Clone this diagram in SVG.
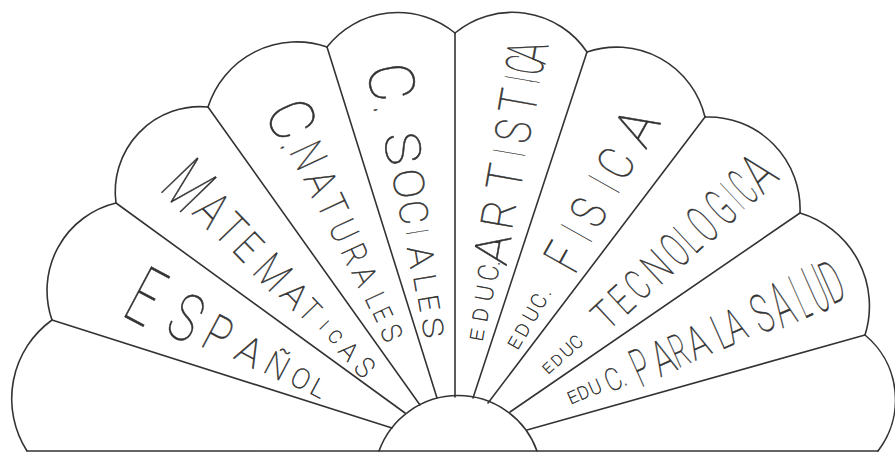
<svg xmlns="http://www.w3.org/2000/svg" width="895" height="453" viewBox="0 0 895 453">
<style>
.ln{fill:none;stroke:#333;stroke-width:1.6;stroke-linecap:round;stroke-linejoin:round}
.lbl{font-family:Roboto,"Noto Sans","DejaVu Sans",sans-serif;font-weight:100;fill:#333;stroke:#333;stroke-width:0.55;text-anchor:start}
</style>
<rect width="895" height="453" fill="#fff"/>
<g id="connectors" class="ln">
<line x1="52" y1="320" x2="392" y2="428"/>
<line x1="116" y1="203" x2="405" y2="413"/>
<line x1="208" y1="107" x2="420" y2="405"/>
<line x1="327" y1="47" x2="437" y2="398"/>
<line x1="455" y1="33" x2="455" y2="397"/>
<line x1="587" y1="52" x2="473" y2="398"/>
<line x1="705" y1="117" x2="488" y2="403"/>
<line x1="800" y1="213" x2="510" y2="412"/>
<line x1="865" y1="335" x2="527" y2="430"/>
<line x1="27" y1="451" x2="878" y2="451"/>
</g>
<g id="hub"><path class="ln" d="M379,451 A84,84 0 0 1 537,451"/></g>
<g id="sector-left"><path class="ln" d="M27,451 A97,97 0 0 1 52,320"/></g>
<g id="sector-espanol"><path class="ln" d="M52,320 A90,90 0 0 1 116,203"/>
<text class="lbl" transform="translate(146,296) rotate(28)"><tspan x="-14" y="28.4" font-size="80" textLength="28" lengthAdjust="spacingAndGlyphs">E</tspan><tspan x="31.7" y="23.4" font-size="66" textLength="28" lengthAdjust="spacingAndGlyphs">S</tspan><tspan x="69.5" y="18.5" font-size="52" textLength="24" lengthAdjust="spacingAndGlyphs">P</tspan><tspan x="105.7" y="13.8" font-size="39" textLength="24" lengthAdjust="spacingAndGlyphs">A</tspan><tspan x="137.5" y="12" font-size="34" textLength="22" lengthAdjust="spacingAndGlyphs">Ñ</tspan><tspan x="166.4" y="10" font-size="28" textLength="18" lengthAdjust="spacingAndGlyphs">O</tspan><tspan x="188.5" y="9" font-size="25" textLength="14" lengthAdjust="spacingAndGlyphs">L</tspan></text></g>
<g id="sector-matematicas"><path class="ln" d="M116,203 A85,85 0 0 1 208,107"/>
<text class="lbl" transform="translate(189,185) rotate(46)"><tspan x="-18" y="24.9" font-size="70" textLength="36" lengthAdjust="spacingAndGlyphs">M</tspan><tspan x="22" y="18" font-size="51" textLength="24" lengthAdjust="spacingAndGlyphs">A</tspan><tspan x="50" y="16.5" font-size="46" textLength="22" lengthAdjust="spacingAndGlyphs">T</tspan><tspan x="75.6" y="15" font-size="42" textLength="20" lengthAdjust="spacingAndGlyphs">E</tspan><tspan x="106" y="16" font-size="45" textLength="30" lengthAdjust="spacingAndGlyphs">M</tspan><tspan x="141.8" y="12.5" font-size="35" textLength="22" lengthAdjust="spacingAndGlyphs">A</tspan><tspan x="166" y="11" font-size="31" textLength="16" lengthAdjust="spacingAndGlyphs">T</tspan><tspan x="192.5" y="6" font-size="17" textLength="4" lengthAdjust="spacingAndGlyphs">I</tspan><tspan x="204.8" y="6.5" font-size="18" textLength="12" lengthAdjust="spacingAndGlyphs">C</tspan><tspan x="223.1" y="9" font-size="25" textLength="15" lengthAdjust="spacingAndGlyphs">A</tspan><tspan x="245.7" y="10" font-size="28" textLength="15" lengthAdjust="spacingAndGlyphs">S</tspan></text></g>
<g id="sector-naturales"><path class="ln" d="M208,107 A93,93 0 0 1 327,47"/>
<text class="lbl" transform="translate(292,119) rotate(65)"><tspan x="-18" y="22.4" font-size="63" textLength="36" lengthAdjust="spacingAndGlyphs">C</tspan><tspan x="19" y="22.4" font-size="63" textLength="6" lengthAdjust="spacingAndGlyphs">.</tspan><tspan x="28" y="16.5" font-size="46" textLength="24" lengthAdjust="spacingAndGlyphs">N</tspan><tspan x="59" y="15" font-size="42" textLength="22" lengthAdjust="spacingAndGlyphs">A</tspan><tspan x="86" y="14" font-size="39" textLength="20" lengthAdjust="spacingAndGlyphs">T</tspan><tspan x="113" y="13" font-size="37" textLength="20" lengthAdjust="spacingAndGlyphs">U</tspan><tspan x="140" y="12" font-size="34" textLength="18" lengthAdjust="spacingAndGlyphs">R</tspan><tspan x="164" y="11" font-size="31" textLength="18" lengthAdjust="spacingAndGlyphs">A</tspan><tspan x="193" y="10" font-size="28" textLength="12" lengthAdjust="spacingAndGlyphs">L</tspan><tspan x="209" y="9" font-size="25" textLength="12" lengthAdjust="spacingAndGlyphs">E</tspan><tspan x="228.5" y="10" font-size="28" textLength="15" lengthAdjust="spacingAndGlyphs">S</tspan></text></g>
<g id="sector-sociales"><path class="ln" d="M327,47 A90,90 0 0 1 455,33"/>
<text class="lbl" transform="translate(392,82) rotate(80.5)"><tspan x="-19" y="22.4" font-size="63" textLength="38" lengthAdjust="spacingAndGlyphs">C</tspan><tspan x="22" y="22.4" font-size="63" textLength="6" lengthAdjust="spacingAndGlyphs">.</tspan><tspan x="51" y="17.5" font-size="49" textLength="32" lengthAdjust="spacingAndGlyphs">S</tspan><tspan x="88" y="15" font-size="42" textLength="30" lengthAdjust="spacingAndGlyphs">O</tspan><tspan x="120" y="14" font-size="39" textLength="24" lengthAdjust="spacingAndGlyphs">C</tspan><tspan x="150" y="11" font-size="31" textLength="4" lengthAdjust="spacingAndGlyphs">I</tspan><tspan x="166" y="12.5" font-size="35" textLength="22" lengthAdjust="spacingAndGlyphs">A</tspan><tspan x="195" y="11" font-size="31" textLength="16" lengthAdjust="spacingAndGlyphs">L</tspan><tspan x="216" y="10" font-size="28" textLength="16" lengthAdjust="spacingAndGlyphs">E</tspan><tspan x="239" y="10" font-size="28" textLength="20" lengthAdjust="spacingAndGlyphs">S</tspan></text></g>
<g id="sector-artistica"><path class="ln" d="M455,33 A90,90 0 0 1 587,52"/>
<text class="lbl" transform="translate(477,335) rotate(-80)"><tspan x="-6" y="6.5" font-size="18" textLength="12" lengthAdjust="spacingAndGlyphs">E</tspan><tspan x="13.9" y="7.5" font-size="21" textLength="13" lengthAdjust="spacingAndGlyphs">D</tspan><tspan x="34.6" y="8.5" font-size="24" textLength="16" lengthAdjust="spacingAndGlyphs">U</tspan><tspan x="55.4" y="10" font-size="28" textLength="16" lengthAdjust="spacingAndGlyphs">C</tspan><tspan x="72" y="10" font-size="28" textLength="4" lengthAdjust="spacingAndGlyphs">.</tspan><tspan> </tspan><tspan x="72.5" y="17" font-size="48" textLength="30" lengthAdjust="spacingAndGlyphs">A</tspan><tspan x="108.5" y="16" font-size="45" textLength="28" lengthAdjust="spacingAndGlyphs">R</tspan><tspan x="147" y="17.5" font-size="49" textLength="26" lengthAdjust="spacingAndGlyphs">T</tspan><tspan x="183" y="16" font-size="45" textLength="4" lengthAdjust="spacingAndGlyphs">I</tspan><tspan x="196" y="17.5" font-size="49" textLength="22" lengthAdjust="spacingAndGlyphs">S</tspan><tspan x="225" y="18.5" font-size="52" textLength="24" lengthAdjust="spacingAndGlyphs">T</tspan><tspan x="257.4" y="17.5" font-size="49" textLength="4" lengthAdjust="spacingAndGlyphs">I</tspan><tspan x="265.5" y="18.5" font-size="52" textLength="18" lengthAdjust="spacingAndGlyphs">C</tspan><tspan x="277.7" y="20" font-size="56" textLength="20" lengthAdjust="spacingAndGlyphs">A</tspan></text></g>
<g id="sector-fisica"><path class="ln" d="M587,52 A91,91 0 0 1 705,117"/>
<text class="lbl" transform="translate(515,343) rotate(-60.8)"><tspan x="-5.5" y="6" font-size="17" textLength="11" lengthAdjust="spacingAndGlyphs">E</tspan><tspan x="9.2" y="6.5" font-size="18" textLength="12" lengthAdjust="spacingAndGlyphs">D</tspan><tspan x="26.2" y="7" font-size="20" textLength="13" lengthAdjust="spacingAndGlyphs">U</tspan><tspan x="41.6" y="7.5" font-size="21" textLength="13" lengthAdjust="spacingAndGlyphs">C</tspan><tspan x="58" y="7.5" font-size="21" textLength="4" lengthAdjust="spacingAndGlyphs">.</tspan><tspan> </tspan><tspan x="87.8" y="19" font-size="53" textLength="22" lengthAdjust="spacingAndGlyphs">F</tspan><tspan x="124" y="17.5" font-size="49" textLength="4" lengthAdjust="spacingAndGlyphs">I</tspan><tspan x="139" y="17.5" font-size="49" textLength="22" lengthAdjust="spacingAndGlyphs">S</tspan><tspan x="180.3" y="17.5" font-size="49" textLength="4" lengthAdjust="spacingAndGlyphs">I</tspan><tspan x="193" y="17.5" font-size="49" textLength="26" lengthAdjust="spacingAndGlyphs">C</tspan><tspan x="232" y="20" font-size="56" textLength="32" lengthAdjust="spacingAndGlyphs">A</tspan></text></g>
<g id="sector-tecnologica"><path class="ln" d="M705,117 A92,92 0 0 1 800,213"/>
<text class="lbl" transform="translate(548,368) rotate(-43)"><tspan x="-4.5" y="5" font-size="14" textLength="9" lengthAdjust="spacingAndGlyphs">E</tspan><tspan x="7.1" y="5.5" font-size="15" textLength="10" lengthAdjust="spacingAndGlyphs">D</tspan><tspan x="20.2" y="6" font-size="17" textLength="12" lengthAdjust="spacingAndGlyphs">U</tspan><tspan x="32.7" y="6.5" font-size="18" textLength="11" lengthAdjust="spacingAndGlyphs">C</tspan><tspan> </tspan><tspan x="67.8" y="14" font-size="39" textLength="20" lengthAdjust="spacingAndGlyphs">T</tspan><tspan x="92.3" y="15" font-size="42" textLength="16" lengthAdjust="spacingAndGlyphs">E</tspan><tspan x="113.3" y="15" font-size="42" textLength="18" lengthAdjust="spacingAndGlyphs">C</tspan><tspan x="137.4" y="16.5" font-size="46" textLength="22" lengthAdjust="spacingAndGlyphs">N</tspan><tspan x="164.3" y="17.5" font-size="49" textLength="18" lengthAdjust="spacingAndGlyphs">O</tspan><tspan x="185.1" y="17.5" font-size="49" textLength="12" lengthAdjust="spacingAndGlyphs">L</tspan><tspan x="201.8" y="19" font-size="53" textLength="18" lengthAdjust="spacingAndGlyphs">O</tspan><tspan x="226.5" y="19" font-size="53" textLength="18" lengthAdjust="spacingAndGlyphs">G</tspan><tspan x="250" y="17.5" font-size="49" textLength="4" lengthAdjust="spacingAndGlyphs">I</tspan><tspan x="259" y="19" font-size="53" textLength="14" lengthAdjust="spacingAndGlyphs">C</tspan><tspan x="275" y="20" font-size="56" textLength="24" lengthAdjust="spacingAndGlyphs">A</tspan></text></g>
<g id="sector-salud"><path class="ln" d="M800,213 A97,97 0 0 1 865,335"/>
<text class="lbl" transform="translate(573,397) rotate(-24)"><tspan x="-5" y="6" font-size="17" textLength="10" lengthAdjust="spacingAndGlyphs">E</tspan><tspan x="5.7" y="6.5" font-size="18" textLength="11" lengthAdjust="spacingAndGlyphs">D</tspan><tspan x="18.2" y="7" font-size="20" textLength="12" lengthAdjust="spacingAndGlyphs">U</tspan><tspan x="35.9" y="11" font-size="31" textLength="16" lengthAdjust="spacingAndGlyphs">C</tspan><tspan x="51.5" y="11" font-size="31" textLength="4" lengthAdjust="spacingAndGlyphs">.</tspan><tspan> </tspan><tspan x="66" y="19" font-size="53" textLength="16" lengthAdjust="spacingAndGlyphs">P</tspan><tspan x="87.9" y="17.5" font-size="49" textLength="20" lengthAdjust="spacingAndGlyphs">A</tspan><tspan x="107.8" y="16.5" font-size="46" textLength="16" lengthAdjust="spacingAndGlyphs">R</tspan><tspan x="126.2" y="16.5" font-size="46" textLength="20" lengthAdjust="spacingAndGlyphs">A</tspan><tspan> </tspan><tspan x="155.1" y="17.5" font-size="49" textLength="14" lengthAdjust="spacingAndGlyphs">L</tspan><tspan x="168" y="16.5" font-size="46" textLength="18" lengthAdjust="spacingAndGlyphs">A</tspan><tspan> </tspan><tspan x="197.7" y="19" font-size="53" textLength="18" lengthAdjust="spacingAndGlyphs">S</tspan><tspan x="219.4" y="22.5" font-size="63" textLength="18" lengthAdjust="spacingAndGlyphs">A</tspan><tspan x="243.8" y="22.5" font-size="63" textLength="10" lengthAdjust="spacingAndGlyphs">L</tspan><tspan x="258.3" y="24" font-size="68" textLength="16" lengthAdjust="spacingAndGlyphs">U</tspan><tspan x="274.3" y="21" font-size="59" textLength="18" lengthAdjust="spacingAndGlyphs">D</tspan></text></g>
<g id="sector-right"><path class="ln" d="M865,335 A84,84 0 0 1 878,451"/></g>
</svg>
